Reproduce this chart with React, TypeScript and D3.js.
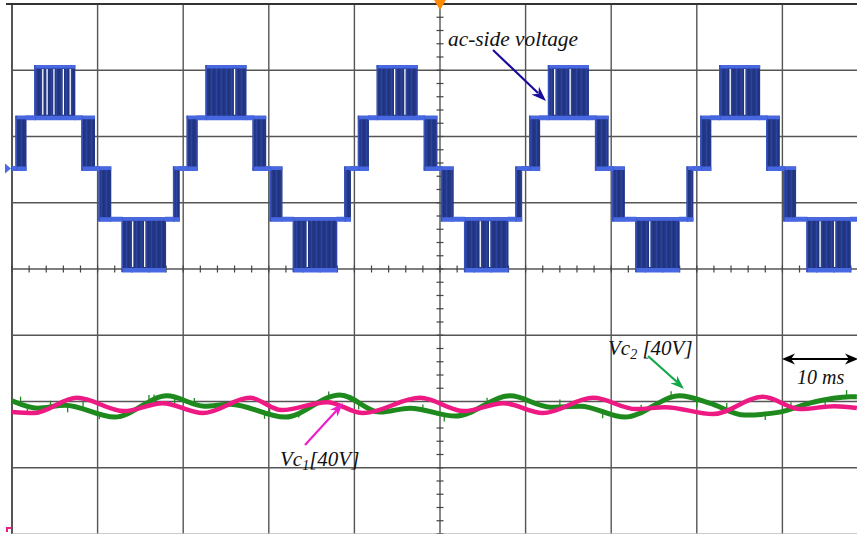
import React from "react";
import * as d3 from "d3";

const W = 857;
const H = 534;

// ---- time base: 10 ms / div, 10 divisions
const timeDomain: [number, number] = [0, 100];
const gridTimes = [0, 10, 20, 30, 40, 50, 60, 70, 80, 90, 100];
const gridDivs = [0, 1, 2, 3, 4, 5, 6, 7, 8];

// ---- channel 1: ac-side voltage (V), multilevel staircase with PWM bands
const acLevels = [-80, -40, 0, 40, 80];
const cycleStarts = [-1.2, 18.8, 38.8, 58.8, 78.8, 98.8];
// one fundamental cycle, offsets in ms from the cycle start
const segStart = [0.0, 0.8, 1.6, 2.9, 3.8, 8.6, 9.3, 10.9, 11.3, 12.8, 14.0, 19.2];
const segEnd = [0.8, 1.6, 2.9, 3.8, 8.6, 9.3, 10.9, 11.3, 12.8, 14.0, 19.2, 20.0];
const segLow = [-40, 0, 0, 40, 40, 40, 0, 0, -40, -40, -80, -40];
const segHigh = [0, 0, 40, 40, 80, 40, 40, 0, 0, -40, -40, -40];
// white gaps visible inside the PWM bands (ms)
const gapTimes = [3.6, 4.1, 4.9, 6.0, 6.8, 14.1, 15.5, 26.0, 34.5, 44.7, 45.9, 54.7, 55.8, 63.4, 65.2, 74.5, 83.9, 85.6, 94.4, 96.1];

// ---- channel 2: dc capacitor voltages (V), 20 V/div
const vc1Time = [0.0, 2.5, 7.6, 13.1, 17.6, 22.3, 27.8, 31.5, 36.8, 41.0, 47.7, 52.8, 57.4, 62.0, 67.9, 72.9, 76.3, 81.9, 87.7, 92.1, 96.1, 98.7];
const vc1Volt = [36.8, 36.5, 41.1, 37.1, 39.5, 36.5, 41.1, 37.4, 39.8, 36.5, 41.1, 37.1, 39.5, 36.5, 41.1, 37.7, 38.3, 36.2, 41.4, 37.7, 38.6, 38.0];
const vc2Time = [0.0, 3.0, 6.2, 12.0, 18.1, 22.5, 25.5, 31.9, 38.3, 43.0, 46.5, 51.8, 58.2, 62.9, 66.4, 71.6, 78.0, 81.5, 85.6, 89.7, 93.2, 97.9, 98.7];
const vc2Volt = [40.2, 38.0, 38.9, 35.3, 41.7, 38.6, 39.2, 35.3, 42.0, 36.8, 38.0, 35.6, 41.7, 38.3, 38.6, 35.3, 41.7, 39.5, 35.9, 36.8, 39.5, 41.4, 41.4];
// switching noise spikes on Vc2 (time ms, spike size V)
const vc2SpikeT = [1.0, 1.8, 4.5, 6.5, 8.3, 10.2, 16.0, 16.6, 19.0, 21.3, 29.5, 30.1, 33.5, 37.0, 40.5, 48.0, 50.5, 55.5, 60.0, 64.0, 69.0, 73.5, 77.0, 80.0, 83.5, 88.0, 91.0, 95.0, 97.5];
const vc2SpikeV = [2.0, -2.2, 1.8, -2.0, 2.4, -1.8, 2.5, 2.0, -2.2, 1.6, -2.0, 2.2, -1.8, 2.4, -2.0, 1.8, -2.2, 2.0, -1.6, 2.2, -2.0, 1.8, 2.4, -2.2, 1.8, -2.0, 2.0, -1.8, 2.2];

const SERIF = "'Liberation Serif', 'Times New Roman', Times, serif";

function arrowHead(x1: number, y1: number, x2: number, y2: number, len: number, wid: number) {
  const a = Math.atan2(y2 - y1, x2 - x1);
  const bx = x2 - len * Math.cos(a);
  const by = y2 - len * Math.sin(a);
  const nx = (-Math.sin(a) * wid) / 2;
  const ny = (Math.cos(a) * wid) / 2;
  const notchX = x2 - len * 0.7 * Math.cos(a);
  const notchY = y2 - len * 0.7 * Math.sin(a);
  return `${x2},${y2} ${bx + nx},${by + ny} ${notchX},${notchY} ${bx - nx},${by - ny}`;
}

export default function App() {
  const x = d3.scaleLinear().domain(timeDomain).range([12, 868]);
  const yDiv = d3.scaleLinear().domain([0, 8]).range([4, 534]);
  const y1 = d3.scaleLinear().domain([acLevels[0], acLevels[4]]).range([270, 67]);
  const y2 = d3.scaleLinear().domain([0, 160]).range([534, 4]);

  const line = d3
    .line<[number, number]>()
    .x((d) => x(d[0]))
    .y((d) => y2(d[1]))
    .curve(d3.curveMonotoneX);

  const vc1Pts = vc1Time.map((t, i) => [t, vc1Volt[i]] as [number, number]);
  const vc2Pts = vc2Time.map((t, i) => [t, vc2Volt[i]] as [number, number]);
  const vc2At = d3.scaleLinear().domain(vc2Time).range(vc2Volt);

  const BRIGHT = "#4868e2";
  const DARK = "#24398a";

  const flats: JSX.Element[] = [];
  const bands: JSX.Element[] = [];
  const edges: JSX.Element[] = [];
  cycleStarts.forEach((c, ci) => {
    segStart.forEach((s, i) => {
      const x0 = x(c + s);
      const x1 = x(c + segEnd[i]);
      const lo = segLow[i];
      const hi = segHigh[i];
      if (lo === hi) {
        flats.push(
          <rect key={`f${ci}-${i}`} x={x0 - 1} y={y1(lo) - 2.5} width={x1 - x0 + 2} height={5} fill={BRIGHT} />
        );
      } else {
        bands.push(
          <rect key={`b${ci}-${i}`} x={x0} y={y1(hi) - 2} width={x1 - x0} height={y1(lo) - y1(hi) + 4} fill="url(#pwm)" />
        );
        edges.push(
          <rect key={`et${ci}-${i}`} x={x0} y={y1(hi) - 2} width={x1 - x0} height={3.5} fill={BRIGHT} />,
          <rect key={`eb${ci}-${i}`} x={x0} y={y1(lo) - 2} width={x1 - x0} height={4.5} fill={BRIGHT} />,
          <rect key={`el${ci}-${i}`} x={x0} y={y1(hi) - 2} width={1.5} height={y1(lo) - y1(hi) + 4} fill="#3752bb" />
        );
      }
    });
  });

  const gaps: JSX.Element[] = [];
  gapTimes.forEach((g, gi) => {
    cycleStarts.forEach((c) => {
      segStart.forEach((s, i) => {
        if (segLow[i] !== segHigh[i] && g >= c + s && g <= c + segEnd[i]) {
          gaps.push(
            <line
              key={`g${gi}`}
              x1={x(g)}
              x2={x(g)}
              y1={y1(segHigh[i]) + 2}
              y2={y1(segLow[i]) - 3}
              stroke="#ffffff"
              strokeWidth={1.3}
            />
          );
        }
      });
    });
  });

  const minorX = d3.range(timeDomain[0], timeDomain[1] + 0.01, 2);
  const minorY = d3.range(0, 8.01, 0.2);
  const cx = x(50);
  const cy = yDiv(4);

  return (
    <div style={{ position: "absolute", left: 0, top: 0 }}>
      <svg width={W} height={H} style={{ display: "block", background: "#fff" }}>
        <defs>
          <clipPath id="plot">
            <rect x={12} y={0} width={W - 12} height={H} />
          </clipPath>
          <pattern id="pwm" width={5} height={10} patternUnits="userSpaceOnUse">
            <rect width={5} height={10} fill={DARK} />
            <rect x={1} width={1} height={10} fill="#2d43a0" />
            <rect x={3.5} width={0.8} height={10} fill="#1c2e72" />
          </pattern>
        </defs>

        {/* grid */}
        <g>
          {gridTimes.map((t) => (
            <line key={`vx${t}`} x1={x(t)} x2={x(t)} y1={yDiv(0)} y2={H} stroke="#555" strokeWidth={t === 0 ? 2 : 1.4} />
          ))}
          {gridDivs.map((d) => (
            <line
              key={`hy${d}`}
              x1={d === 0 ? 6 : 12}
              x2={W}
              y1={yDiv(d)}
              y2={yDiv(d)}
              stroke={d === 8 ? "#bbb" : d === 0 ? "#333" : "#555"}
              strokeWidth={d === 0 ? 2 : 1.4}
            />
          ))}
          {minorX.map((t) => (
            <line key={`mx${t}`} x1={x(t)} x2={x(t)} y1={cy - 3.5} y2={cy + 3.5} stroke="#444" strokeWidth={1.2} />
          ))}
          {minorY.map((d) => (
            <line key={`my${d}`} x1={cx - 3.5} x2={cx + 3.5} y1={yDiv(d)} y2={yDiv(d)} stroke="#444" strokeWidth={1.2} />
          ))}
        </g>

        {/* channel 1 */}
        <g clipPath="url(#plot)">
          {bands}
          {gaps}
          {edges}
          {flats}
        </g>

        {/* channel 2 */}
        <g clipPath="url(#plot)" fill="none">
          {vc2SpikeT.map((t, i) => (
            <line
              key={`sp${i}`}
              x1={x(t)}
              x2={x(t)}
              y1={y2(vc2At(t))}
              y2={y2(vc2At(t) + vc2SpikeV[i])}
              stroke="#1e8a1e"
              strokeWidth={1.3}
            />
          ))}
          <path d={line(vc2Pts) ?? ""} stroke="#1e8a1e" strokeWidth={5} />
          <path d={line(vc1Pts) ?? ""} stroke="#ec1a82" strokeWidth={4.5} />
        </g>

        {/* markers */}
        <polygon points={`${cx - 6},0 ${cx + 6},0 ${cx},10`} fill="#ff8c00" />
        <polygon points={`5,${y1(0) - 5} 11,${y1(0)} 5,${y1(0) + 5}`} fill="#4a6ce4" />
        <polygon points="6,527 12,527 12,529 8,529 8,532 6,532" fill="#ec1a82" />

        {/* annotations */}
        <text x={448} y={46} fontFamily={SERIF} fontStyle="italic" fontSize={20} textLength={130} lengthAdjust="spacingAndGlyphs" fill="#111">
          ac-side voltage
        </text>
        <line x1={493} y1={50} x2={538} y2={93} stroke="#1a0c9c" strokeWidth={2.2} />
        <polygon points={arrowHead(493, 50, 546, 101, 15, 11)} fill="#1a0c9c" />

        <text x={608} y={355} fontFamily={SERIF} fontStyle="italic" fontSize={21} fill="#111">
          Vc<tspan fontSize={14} dy={4}>2</tspan>
          <tspan dy={-4}> [40V]</tspan>
        </text>
        <line x1={648} y1={356} x2={677} y2={382} stroke="#12a84a" strokeWidth={2.2} />
        <polygon points={arrowHead(648, 356, 684, 389, 14, 10)} fill="#12a84a" />

        <text x={280} y={466} fontFamily={SERIF} fontStyle="italic" fontSize={21} fill="#111">
          Vc<tspan fontSize={14} dy={4}>1</tspan>
          <tspan dy={-4}>[40V]</tspan>
        </text>
        <line x1={305} y1={445} x2={337} y2={410} stroke="#f01ec8" strokeWidth={2.2} />
        <polygon points={arrowHead(305, 445, 343, 403, 14, 10)} fill="#f01ec8" />

        <line x1={790} y1={359} x2={850} y2={359} stroke="#000" strokeWidth={2.2} />
        <polygon points={arrowHead(830, 359, 782, 359, 13, 11)} fill="#000" />
        <polygon points={arrowHead(800, 359, 858, 359, 13, 11)} fill="#000" />
        <text x={797} y={384} fontFamily={SERIF} fontStyle="italic" fontSize={20} fill="#111">
          10 ms
        </text>
      </svg>
    </div>
  );
}
